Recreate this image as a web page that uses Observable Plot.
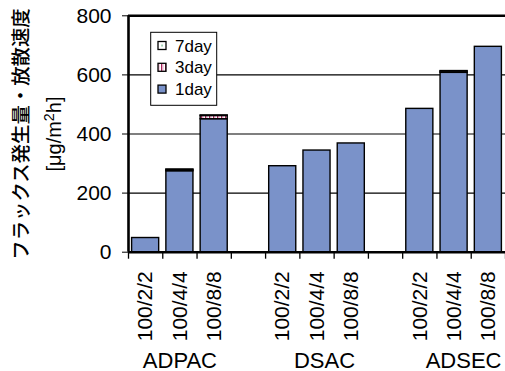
<!DOCTYPE html>
<html><head><meta charset="utf-8">
<script src="https://cdn.jsdelivr.net/npm/d3@7"></script>
<script src="https://cdn.jsdelivr.net/npm/@observablehq/plot@0.6"></script>
<style>body{margin:0;background:#fff}#chart{width:505px;height:371px}</style>
</head><body><div id="chart"></div>
<script>
const groups = ["ADPAC", "DSAC", "ADSEC"];
const ratios = ["100/2/2", "100/4/4", "100/8/8"];
const seriesNames = ["1day", "3day", "7day"];
const day1 = [48, 274, 450, 291, 344, 368, 485, 607, 695];
const day3 = [0, 4, 11, 0, 0, 0, 0, 4, 0];
const day7 = [0, 2, 2, 0, 0, 0, 0, 2, 0];
const yTicks = [0, 200, 400, 600, 800];
const yLabel1 = "フラックス発生量・放散速度";
const yLabel2 = ["[μg/m", "2", "h]"]; // unit with superscript
const legendOrder = ["7day", "3day", "1day"];

// categories laid out with an empty slot between groups
const cats = [];
groups.forEach((g, gi) => ratios.forEach((r, ri) => cats.push({group: g, ratio: r, idx: gi * (ratios.length + 1) + ri})));
const nSlots = groups.length * (ratios.length + 1) - 1;
const rows = [];
cats.forEach((c, k) => {
  [day1, day3, day7].forEach((arr, si) => {
    if (arr[k] > 0) rows.push({idx: c.idx, series: seriesNames[si], value: arr[k]});
  });
});
const labelAt = new Map(cats.map(c => [c.idx + 0.5, c.ratio]));

const fills = {"1day": "#7a92c9", "3day": "url(#pat3)", "7day": "url(#pat7)"};
const groupDx = [0, 7.5, 9.5];
const unitText = yLabel2.join("");

const plot = Plot.plot({
  width: 505,
  height: 371,
  marginLeft: 128,
  marginRight: 0,
  marginTop: 15.3,
  marginBottom: 119.3,
  style: {fontFamily: "'Liberation Sans', Arial, sans-serif", fontSize: "21px", color: "#000", background: "#fff", overflow: "visible"},
  x: {domain: [0, nSlots], axis: null},
  y: {domain: [0, 800], axis: null},
  color: {domain: seriesNames, range: seriesNames.map(s => fills[s])},
  marks: [
    Plot.ruleY(yTicks.filter(t => t > 0 && t < 800), {stroke: "#000", strokeWidth: 1.2}),
    Plot.ruleY([800], {stroke: "#000", strokeWidth: 2.6}),
    Plot.rectY(rows, Plot.stackY({order: seriesNames}, {
      x1: "idx", x2: d => d.idx + 1, y: "value", fill: "series",
      stroke: "#000", strokeWidth: 1.4, insetLeft: 3.6, insetRight: 3.6
    })),
    Plot.axisY({ticks: yTicks, tickSize: 6, tickPadding: 11, fontSize: 21, tickFormat: d => String(d), label: null}),
    Plot.axisX({ticks: d3.range(0, nSlots + 1), tickSize: 7, tickFormat: () => "", label: null, strokeWidth: 1.3}),
    Plot.axisX({ticks: cats.map(c => c.idx + 0.5), tickSize: 0, tickPadding: 19, tickRotate: -90, fontSize: 21, tickFormat: d => labelAt.get(d), label: null}),
    Plot.ruleY([0], {stroke: "#000", strokeWidth: 2.6}),
    Plot.ruleX([0], {stroke: "#000", strokeWidth: 2.6}),
    ...groups.map((g, gi) => Plot.text([g], {
      x: gi * (ratios.length + 1) + (ratios.length - 1) / 2 + 0.5,
      text: d => d, frameAnchor: "bottom", dy: 108.3, dx: groupDx[gi],
      lineAnchor: "middle", fontSize: 22
    })),
    Plot.text([yLabel1], {text: d => d, frameAnchor: "left", dx: -107, rotate: -90, lineAnchor: "middle", textAnchor: "middle",
      fontSize: 19.4, fontWeight: 500, fontFamily: "'Noto Sans CJK JP', sans-serif"}),
    Plot.text([unitText], {text: d => d, frameAnchor: "left", dx: -74, rotate: -90, lineAnchor: "middle", textAnchor: "middle",
      fontSize: 20})
  ]
});
document.getElementById("chart").append(plot);

const svg = d3.select(plot);

// superscript in the unit label
svg.selectAll("text").filter(function () { return this.textContent === unitText; }).each(function () {
  const t = d3.select(this);
  t.text(null);
  t.append("tspan").text(yLabel2[0]);
  t.append("tspan").attr("dy", "-0.45em").attr("font-size", "0.72em").text(yLabel2[1]);
  t.append("tspan").attr("dy", "0.32em").text(yLabel2[2]);
});

// patterns
const defs = svg.insert("defs", ":first-child");
const p3 = defs.append("pattern").attr("id", "pat3").attr("patternUnits", "userSpaceOnUse").attr("width", 4).attr("height", 4);
p3.append("rect").attr("width", 4).attr("height", 4).attr("fill", "#fff");
p3.append("rect").attr("x", 1).attr("width", 1.3).attr("height", 4).attr("fill", "#a3245a");
p3.append("rect").attr("x", 2.3).attr("width", 1.2).attr("height", 4).attr("fill", "#eaa9c6");
const p7 = defs.append("pattern").attr("id", "pat7").attr("patternUnits", "userSpaceOnUse").attr("width", 8).attr("height", 8).attr("x", 158).attr("y", 41.5);
p7.append("rect").attr("width", 8).attr("height", 8).attr("fill", "#fff");
p7.append("rect").attr("x", 3.4).attr("y", 3.4).attr("width", 1.3).attr("height", 1.3).attr("fill", "#2f9a55");

// legend
const lg = svg.append("g").attr("font-family", "'Liberation Sans', Arial, sans-serif").attr("font-size", 17).attr("text-anchor", "start");
lg.append("rect").attr("x", 150.7).attr("y", 32.3).attr("width", 66).attr("height", 73)
  .attr("fill", "#fff").attr("stroke", "#000").attr("stroke-width", 1);
legendOrder.forEach((s, i) => {
  const cy = 45.5 + i * 21.8;
  lg.append("rect").attr("x", 158).attr("y", cy - 4).attr("width", 8).attr("height", 8)
    .attr("fill", fills[s]).attr("stroke", "#000").attr("stroke-width", 1.3);
  lg.append("text").attr("x", 175).attr("y", cy).attr("dy", "0.36em").attr("fill", "#000").attr("text-anchor", "start").text(s);
});
</script></body></html>
